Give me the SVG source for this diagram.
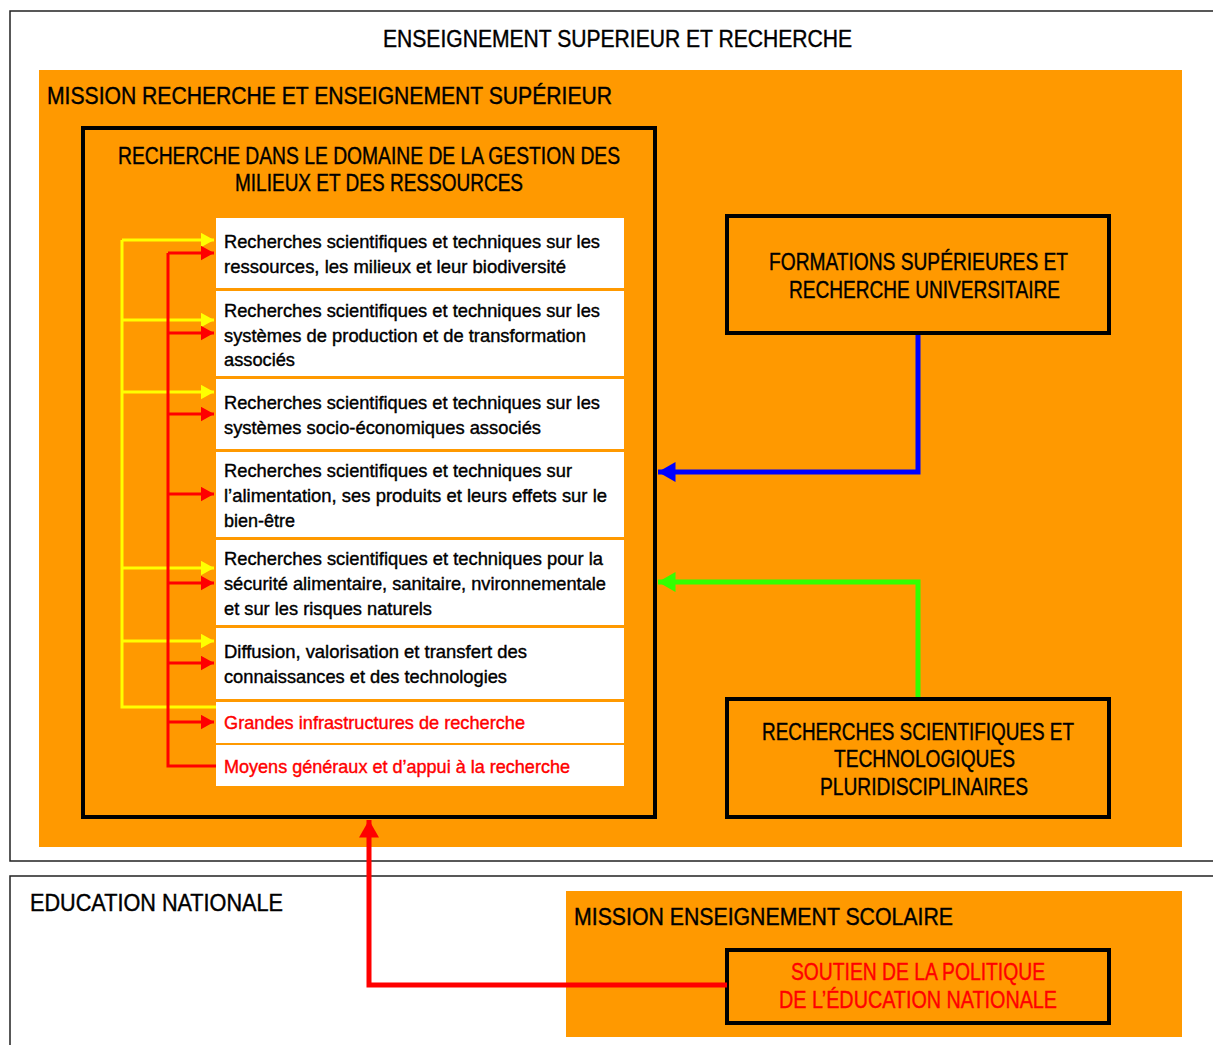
<svg xmlns="http://www.w3.org/2000/svg" width="1213" height="1045" viewBox="0 0 1213 1045">
<defs>
<style>
text{font-family:"Liberation Sans Narrow","Arial Narrow","Liberation Sans",sans-serif;stroke-width:0.4;}
.h{font-size:23px;fill:#000;stroke:#000;}
.hr{font-size:23px;fill:#FF0000;stroke:#FF0000;}
.t{font-size:18.5px;fill:#000;stroke:#000;}
.tr{font-size:18.5px;fill:#FF0000;stroke:#FF0000;}
.org{fill:#FF9900;}
.frame{fill:none;stroke:#222;stroke-width:1.5;}
.bx{fill:#FF9900;stroke:#000;stroke-width:4;}
.row{fill:#fff;}
.y{fill:none;stroke:#FFFF00;stroke-width:3;}
.r{fill:none;stroke:#FF0000;stroke-width:3;}
</style>
<marker id="ay" markerWidth="5" markerHeight="5" refX="4.5" refY="2.5" orient="auto" markerUnits="strokeWidth"><path d="M0,0 L4.5,2.5 L0,5 Z" fill="#FFFF00"/></marker>
<marker id="ar" markerWidth="5" markerHeight="5" refX="4.5" refY="2.5" orient="auto" markerUnits="strokeWidth"><path d="M0,0 L4.5,2.5 L0,5 Z" fill="#FF0000"/></marker>
<marker id="ab" markerWidth="4" markerHeight="4" refX="3.5" refY="2" orient="auto" markerUnits="strokeWidth"><path d="M0,0 L3.5,2 L0,4 Z" fill="#0000FF"/></marker>
<marker id="ag" markerWidth="4" markerHeight="4" refX="3.5" refY="2" orient="auto" markerUnits="strokeWidth"><path d="M0,0 L3.5,2 L0,4 Z" fill="#33FF00"/></marker>
<marker id="ar2" markerWidth="4" markerHeight="4" refX="3.5" refY="2" orient="auto" markerUnits="strokeWidth"><path d="M0,0 L3.5,2 L0,4 Z" fill="#FF0000"/></marker>
</defs>
<rect width="1213" height="1045" fill="#fff"/>

<g id="esr">
<rect class="frame" x="10" y="11" width="1210" height="850"/>
<text class="h" x="617.5" y="47" text-anchor="middle" textLength="469" lengthAdjust="spacingAndGlyphs">ENSEIGNEMENT SUPERIEUR ET RECHERCHE</text>
</g>
<g id="mission-recherche">
<rect class="org" x="39" y="70" width="1143" height="777"/>
<text class="h" x="47" y="104" textLength="565" lengthAdjust="spacingAndGlyphs">MISSION RECHERCHE ET ENSEIGNEMENT SUPÉRIEUR</text>
</g>
<g id="recherche-gestion">
<rect class="bx" x="83" y="128" width="572" height="689"/>
<text class="h" x="369" y="164" text-anchor="middle" textLength="502" lengthAdjust="spacingAndGlyphs">RECHERCHE DANS LE DOMAINE DE LA GESTION DES</text>
<text class="h" x="379" y="191" text-anchor="middle" textLength="288" lengthAdjust="spacingAndGlyphs">MILIEUX ET DES RESSOURCES</text>
</g>
<g id="row1"><rect class="row" x="216" y="218" width="408" height="70"/>
<text class="t" x="224" y="248" textLength="376" lengthAdjust="spacingAndGlyphs">Recherches scientifiques et techniques sur les</text>
<text class="t" x="224" y="273" textLength="342" lengthAdjust="spacingAndGlyphs">ressources, les milieux et leur biodiversité</text></g>
<g id="row2"><rect class="row" x="216" y="291" width="408" height="85"/>
<text class="t" x="224" y="317" textLength="376" lengthAdjust="spacingAndGlyphs">Recherches scientifiques et techniques sur les</text>
<text class="t" x="224" y="342" textLength="362" lengthAdjust="spacingAndGlyphs">systèmes de production et de transformation</text>
<text class="t" x="224" y="366" textLength="71" lengthAdjust="spacingAndGlyphs">associés</text></g>
<g id="row3"><rect class="row" x="216" y="379" width="408" height="70"/>
<text class="t" x="224" y="409" textLength="376" lengthAdjust="spacingAndGlyphs">Recherches scientifiques et techniques sur les</text>
<text class="t" x="224" y="434" textLength="317" lengthAdjust="spacingAndGlyphs">systèmes socio-économiques associés</text></g>
<g id="row4"><rect class="row" x="216" y="452" width="408" height="85"/>
<text class="t" x="224" y="477" textLength="348" lengthAdjust="spacingAndGlyphs">Recherches scientifiques et techniques sur</text>
<text class="t" x="224" y="502" textLength="383" lengthAdjust="spacingAndGlyphs">l’alimentation, ses produits et leurs effets sur le</text>
<text class="t" x="224" y="527" textLength="71" lengthAdjust="spacingAndGlyphs">bien-être</text></g>
<g id="row5"><rect class="row" x="216" y="540" width="408" height="85"/>
<text class="t" x="224" y="565" textLength="379" lengthAdjust="spacingAndGlyphs">Recherches scientifiques et techniques pour la</text>
<text class="t" x="224" y="590" textLength="382" lengthAdjust="spacingAndGlyphs">sécurité alimentaire, sanitaire, nvironnementale</text>
<text class="t" x="224" y="615" textLength="208" lengthAdjust="spacingAndGlyphs">et sur les risques naturels</text></g>
<g id="row6"><rect class="row" x="216" y="628" width="408" height="71"/>
<text class="t" x="224" y="658" textLength="303" lengthAdjust="spacingAndGlyphs">Diffusion, valorisation et transfert des</text>
<text class="t" x="224" y="683" textLength="283" lengthAdjust="spacingAndGlyphs">connaissances et des technologies</text></g>
<g id="row7"><rect class="row" x="216" y="702" width="408" height="41"/>
<text class="tr" x="224" y="729" textLength="301" lengthAdjust="spacingAndGlyphs">Grandes infrastructures de recherche</text></g>
<g id="row8"><rect class="row" x="216" y="745" width="408" height="41"/>
<text class="tr" x="224" y="773" textLength="346" lengthAdjust="spacingAndGlyphs">Moyens généraux et d’appui à la recherche</text></g>

<g id="formations">
<rect class="bx" x="727" y="216" width="382" height="117"/>
<text class="h" x="918.5" y="270" text-anchor="middle" textLength="299" lengthAdjust="spacingAndGlyphs">FORMATIONS SUPÉRIEURES ET</text>
<text class="h" x="924.5" y="298" text-anchor="middle" textLength="271" lengthAdjust="spacingAndGlyphs">RECHERCHE UNIVERSITAIRE</text>
</g>
<g id="pluri">
<rect class="bx" x="727" y="699" width="382" height="118"/>
<text class="h" x="918" y="740" text-anchor="middle" textLength="312" lengthAdjust="spacingAndGlyphs">RECHERCHES SCIENTIFIQUES ET</text>
<text class="h" x="924.5" y="767" text-anchor="middle" textLength="181" lengthAdjust="spacingAndGlyphs">TECHNOLOGIQUES</text>
<text class="h" x="924" y="795" text-anchor="middle" textLength="208" lengthAdjust="spacingAndGlyphs">PLURIDISCIPLINAIRES</text>
</g>

<g id="education">
<rect class="frame" x="10" y="876" width="1210" height="180"/>
<text class="h" x="30" y="911" textLength="253" lengthAdjust="spacingAndGlyphs">EDUCATION NATIONALE</text>
</g>
<g id="mission-scolaire">
<rect class="org" x="566" y="891" width="616" height="146"/>
<text class="h" x="574" y="925" textLength="379" lengthAdjust="spacingAndGlyphs">MISSION ENSEIGNEMENT SCOLAIRE</text>
</g>
<g id="soutien">
<rect class="bx" x="727" y="950" width="382" height="73"/>
<text class="hr" x="918" y="980" text-anchor="middle" textLength="254" lengthAdjust="spacingAndGlyphs">SOUTIEN DE LA POLITIQUE</text>
<text class="hr" x="918" y="1008" text-anchor="middle" textLength="278" lengthAdjust="spacingAndGlyphs">DE L’ÉDUCATION NATIONALE</text>
</g>

<g id="connectors">
<path class="y" d="M122,240 V707 H216"/>
<path class="y" d="M122,240 H214" marker-end="url(#ay)"/>
<path class="y" d="M122,320 H214" marker-end="url(#ay)"/>
<path class="y" d="M122,392 H214" marker-end="url(#ay)"/>
<path class="y" d="M122,568 H214" marker-end="url(#ay)"/>
<path class="y" d="M122,641 H214" marker-end="url(#ay)"/>
<path class="r" d="M168,253 V766 H216"/>
<path class="r" d="M168,253 H214" marker-end="url(#ar)"/>
<path class="r" d="M168,333 H214" marker-end="url(#ar)"/>
<path class="r" d="M168,414 H214" marker-end="url(#ar)"/>
<path class="r" d="M168,494 H214" marker-end="url(#ar)"/>
<path class="r" d="M168,583 H214" marker-end="url(#ar)"/>
<path class="r" d="M168,663 H214" marker-end="url(#ar)"/>
<path class="r" d="M168,722 H214" marker-end="url(#ar)"/>
<path d="M918,335 V472 H658" fill="none" stroke="#0000FF" stroke-width="5" marker-end="url(#ab)"/>
<path d="M918,697 V582 H658" fill="none" stroke="#33FF00" stroke-width="5" marker-end="url(#ag)"/>
<path d="M727,985 H369 V820" fill="none" stroke="#FF0000" stroke-width="5" marker-end="url(#ar2)"/>
</g>
</svg>
